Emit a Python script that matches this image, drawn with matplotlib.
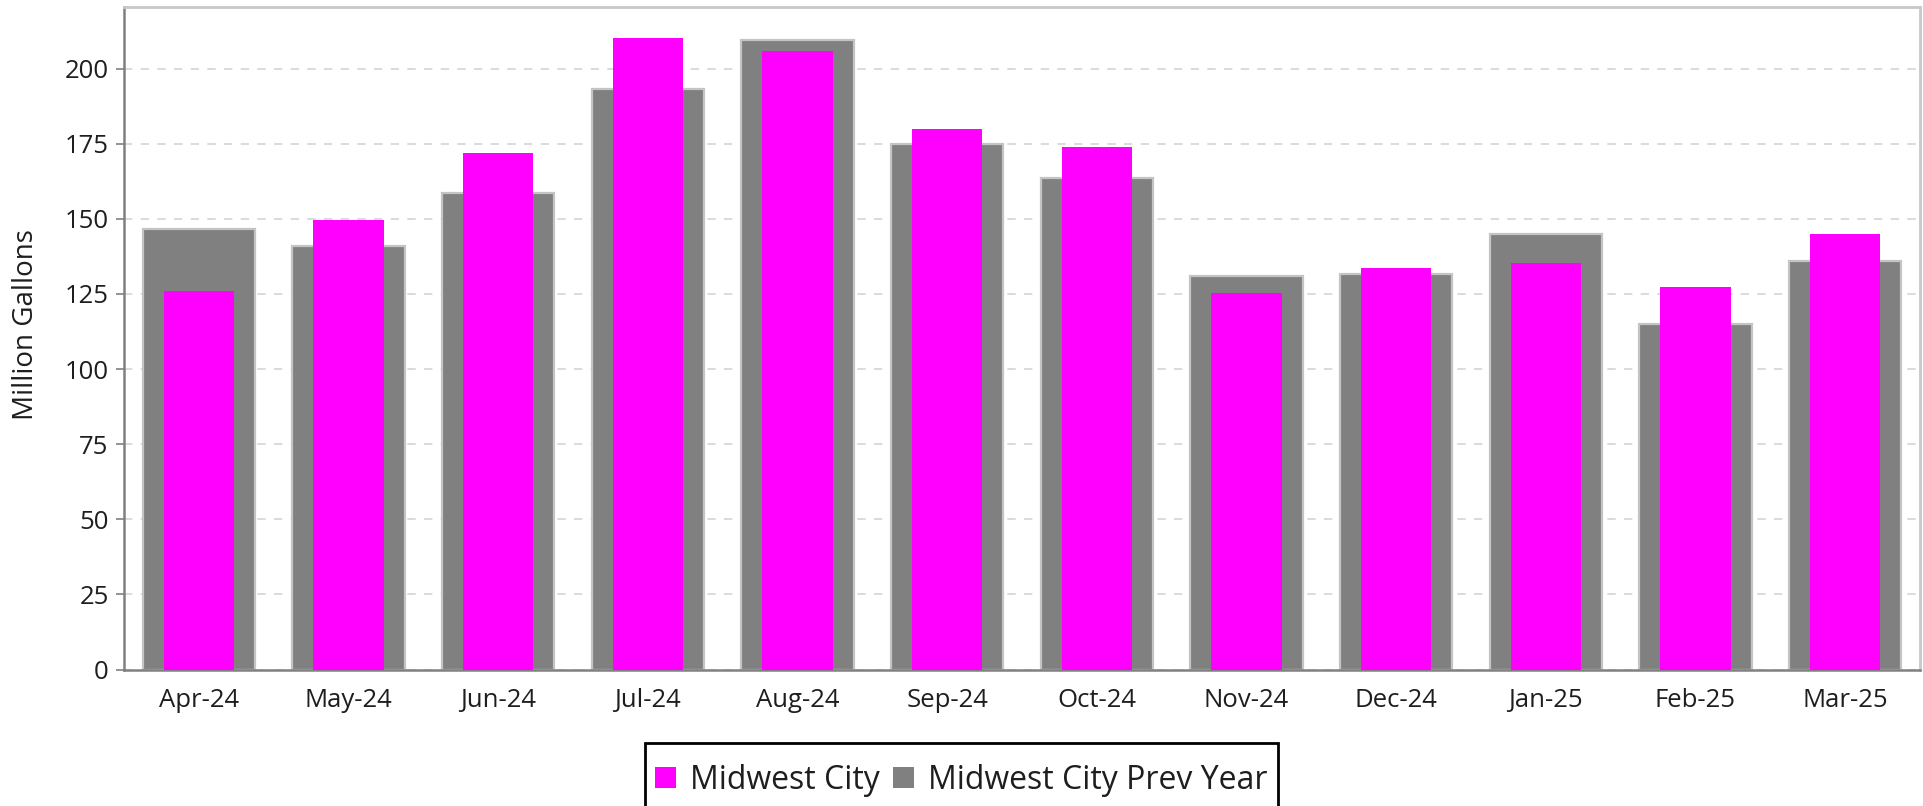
import numpy as np
import matplotlib
matplotlib.use("Agg")
import matplotlib.pyplot as plt
from matplotlib.patches import Patch, Rectangle

# ---------------------------- Data ------------------------------------
months = ["Apr-24", "May-24", "Jun-24", "Jul-24", "Aug-24", "Sep-24",
          "Oct-24", "Nov-24", "Dec-24", "Jan-25", "Feb-25", "Mar-25"]
midwest_city = [125.9, 149.5, 171.8, 210.2, 205.8, 179.8,
                173.9, 125.2, 133.5, 135.3, 127.4, 145.1]
midwest_prev = [146.7, 141.0, 158.5, 193.1, 209.5, 174.9,
                163.5, 130.9, 131.6, 145.1, 114.9, 136.0]
y_ticks = [0, 25, 50, 75, 100, 125, 150, 175, 200]

plt.rcParams['font.family'] = ['Open Sans', 'DejaVu Sans']

# ---------------------------- Chart ------------------------------------
fig = plt.figure(figsize=(19.23, 8.06), dpi=100)
ax = fig.add_axes([124 / 1923, 1 - 669.5 / 806, (1920 - 124) / 1923, (669.5 - 7) / 806])

x = np.arange(len(months))
ax.bar(x, midwest_prev, width=0.75, color="#808080", edgecolor="#c4c4c4",
       linewidth=1.6, zorder=2, label="Midwest City Prev Year")
ax.bar(x, midwest_city, width=0.47, color="#ff00ff", edgecolor="#ff00ff",
       linewidth=0, zorder=3, label="Midwest City")

ax.set_xlim(-0.5, len(months) - 0.5)
ax.set_ylim(0, 220.5)
ax.set_yticks(y_ticks)
ax.set_xticks(x)
ax.set_xticklabels(months)
ax.tick_params(axis="x", length=0, pad=13, labelsize=18.5, labelcolor="#1e1e1e")
ax.tick_params(axis="y", length=6, width=1.2, color="#808080", pad=5,
               labelsize=18.5, labelcolor="#1e1e1e")
ax.set_ylabel("Million Gallons", fontsize=20, color="#1e1e1e")
ax.yaxis.set_label_coords(-0.047, 0.52)

ax.yaxis.grid(True, linestyle=(0, (5, 5)), color="#d4d4d4", linewidth=1.2, zorder=0)
ax.set_axisbelow(True)

for side in ["left", "bottom"]:
    ax.spines[side].set_color("#808080")
    ax.spines[side].set_linewidth(1.8)
for side in ["top", "right"]:
    ax.spines[side].set_color("#c8c8c8")
    ax.spines[side].set_linewidth(2)

handles = [Patch(facecolor="#ff00ff", label="Midwest City"),
           Patch(facecolor="#808080", label="Midwest City Prev Year")]
leg = fig.legend(handles=handles, loc="upper center", bbox_to_anchor=(0.5, 1 - 753 / 806),
                 ncol=2, fontsize=23, frameon=False, borderpad=0.33,
                 handlelength=0.65, handleheight=0.65, handletextpad=0.45,
                 columnspacing=0.4, borderaxespad=0)
for t in leg.get_texts():
    t.set_color("#1e1e1e")

# legend box: extra room on top, runs off the bottom of the image as in the original
fig.canvas.draw()
bb = leg.get_window_extent().transformed(fig.transFigure.inverted())
top_extra = 10 / 806
fig.patches.append(Rectangle((bb.x0, bb.y0 - 0.05), bb.width, bb.height + 0.05 + top_extra,
                             transform=fig.transFigure, fill=False,
                             edgecolor="black", linewidth=2))

fig.savefig("out.png", dpi=100)
